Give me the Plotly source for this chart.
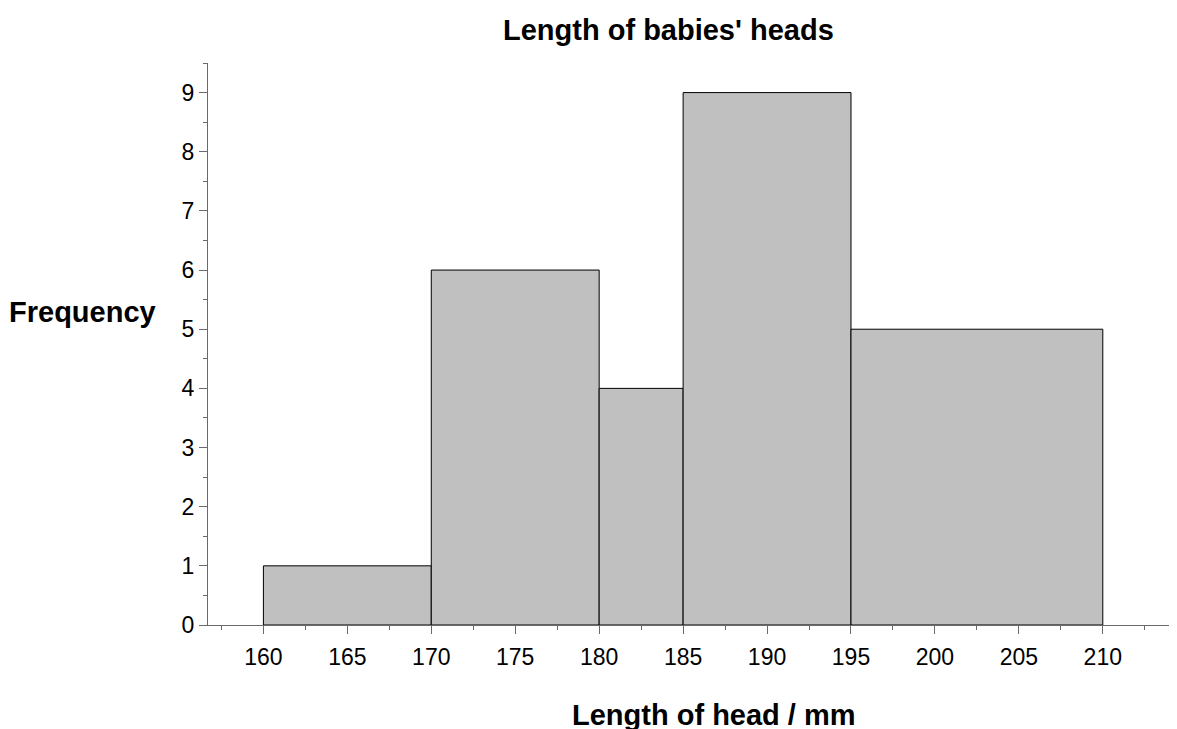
import plotly.graph_objects as go

# Class boundaries (mm) and frequencies
lower_bounds = [160, 170, 180, 185, 195]
upper_bounds = [170, 180, 185, 195, 210]
frequencies = [1, 6, 4, 9, 5]

x_tick_values = [160, 165, 170, 175, 180, 185, 190, 195, 200, 205, 210]
y_tick_values = [0, 1, 2, 3, 4, 5, 6, 7, 8, 9]

mids = [(a + b) / 2 for a, b in zip(lower_bounds, upper_bounds)]
widths = [b - a for a, b in zip(lower_bounds, upper_bounds)]

FONT = "Liberation Sans, Arial, sans-serif"
AXIS_COLOR = "#6a6a6a"

fig = go.Figure(
    go.Bar(
        x=mids,
        y=frequencies,
        width=widths,
        marker=dict(color="#c0c0c0", line=dict(color="black", width=1)),
        hoverinfo="skip",
    )
)

fig.update_layout(
    width=1177,
    height=729,
    margin=dict(l=200, r=10, t=55, b=112),
    paper_bgcolor="white",
    plot_bgcolor="white",
    showlegend=False,
    font=dict(family=FONT, size=23, color="black"),
    xaxis=dict(
        range=[156.7, 214.3],
        tickmode="array",
        tickvals=x_tick_values,
        ticktext=[str(v) for v in x_tick_values],
        ticks="outside",
        ticklen=8,
        tickwidth=1,
        tickcolor=AXIS_COLOR,
        showline=True,
        linecolor=AXIS_COLOR,
        linewidth=1,
        showgrid=False,
        zeroline=False,
        ticklabelstandoff=3,
        minor=dict(dtick=2.5, tick0=0, ticks="outside", ticklen=4, tickcolor=AXIS_COLOR, showgrid=False),
    ),
    yaxis=dict(
        range=[0, 9.5],
        tickmode="array",
        tickvals=y_tick_values,
        ticktext=[str(v) for v in y_tick_values],
        ticks="outside",
        ticklen=8,
        tickwidth=1,
        tickcolor=AXIS_COLOR,
        showline=True,
        linecolor=AXIS_COLOR,
        linewidth=1,
        showgrid=False,
        zeroline=False,
        ticklabelstandoff=0,
        minor=dict(dtick=0.5, tick0=0, ticks="outside", ticklen=4, tickcolor=AXIS_COLOR, showgrid=False),
    ),
    annotations=[
        dict(text="<b>Length of babies' heads</b>", xref="paper", yref="paper",
             x=0.476, y=1.0587, showarrow=False, font=dict(size=29, family=FONT),
             xanchor="center", yanchor="middle"),
        dict(text="<b>Length of head / mm</b>", xref="paper", yref="paper",
             x=0.523, y=-0.160, showarrow=False, font=dict(size=29, family=FONT),
             xanchor="center", yanchor="middle"),
        dict(text="<b>Frequency</b>", xref="paper", yref="paper",
             x=-0.1298, y=0.557, showarrow=False, font=dict(size=29, family=FONT),
             xanchor="center", yanchor="middle"),
    ],
)

fig.write_html("out.html")
